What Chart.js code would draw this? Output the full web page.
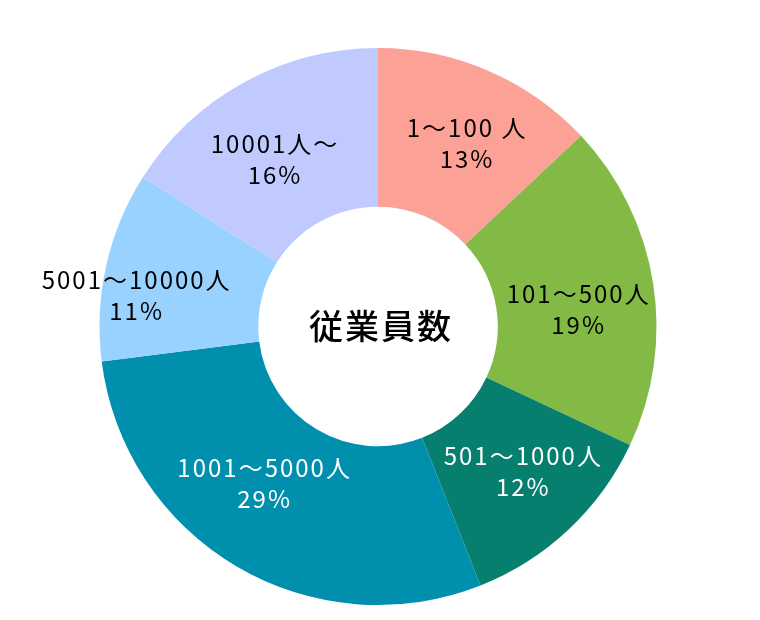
<!DOCTYPE html>
<html>
<head>
<meta charset="utf-8">
<script src="https://cdn.jsdelivr.net/npm/chart.js@4"></script>
<style>
  html, body { margin: 0; padding: 0; background: #fff; }
  #wrap { width: 760px; height: 620px; }
</style>
</head>
<body>
<div id="wrap"><canvas id="chart"></canvas></div>
<script>
"use strict";

const categories = ["1〜100 人", "101〜500人", "501〜1000人", "1001〜5000人", "5001〜10000人", "10001人〜"];
const shares = [13, 19, 12, 29, 11, 16];
const sliceColors = ["#fba195", "#82ba45", "#077f6e", "#0090ae", "#99d1ff", "#c1caff"];
const labelColors = ["#000", "#000", "#fff", "#fff", "#000", "#000"];
const centerTitle = "従業員数";

// small nudges from the arc centre so labels sit where the original put them
const labelNudge = [[9, -1], [3, 14], [8, -1], [-13, -15], [-48, 12], [-8, 7]];

const FONT = "'Noto Sans CJK JP', 'Noto Sans', sans-serif";
const SPACING = 2;

const sliceLabels = {
    id: "sliceLabels",
    afterDatasetsDraw(chart) {
        const ctx = chart.ctx;
        const meta = chart.getDatasetMeta(0);
        ctx.save();
        ctx.textAlign = "center";
        ctx.textBaseline = "middle";
        ctx.font = "24px " + FONT;
        ctx.letterSpacing = SPACING + "px";
        meta.data.forEach((arc, i) => {
            const mid = (arc.startAngle + arc.endAngle) / 2;
            const r = (arc.innerRadius + arc.outerRadius) / 2;
            // letterSpacing leaves a trailing gap, so shift back by half of it
            const x = arc.x + Math.cos(mid) * r + labelNudge[i][0] + SPACING / 2;
            const y = arc.y + Math.sin(mid) * r + labelNudge[i][1];
            ctx.fillStyle = labelColors[i];
            ctx.fillText(categories[i], x, y - 15);
            ctx.fillText(shares[i] + "%", x, y + 16);
        });
        // title in the hole
        const a = meta.data[0];
        ctx.fillStyle = "#000";
        ctx.font = "500 34px " + FONT;
        ctx.letterSpacing = "2px";
        ctx.fillText(centerTitle, a.x + 3, a.y);
        ctx.restore();
    }
};

new Chart(document.getElementById("chart"), {
    type: "doughnut",
    data: {
        labels: categories,
        datasets: [{
            data: shares,
            backgroundColor: sliceColors,
            borderWidth: 0
        }]
    },
    options: {
        responsive: true,
        maintainAspectRatio: false,
        animation: false,
        cutout: "43%",
        layout: { padding: { top: 48, bottom: 15, left: 98, right: 102 } },
        plugins: {
            legend: { display: false },
            tooltip: { enabled: false }
        }
    },
    plugins: [sliceLabels]
});
</script>
</body>
</html>
